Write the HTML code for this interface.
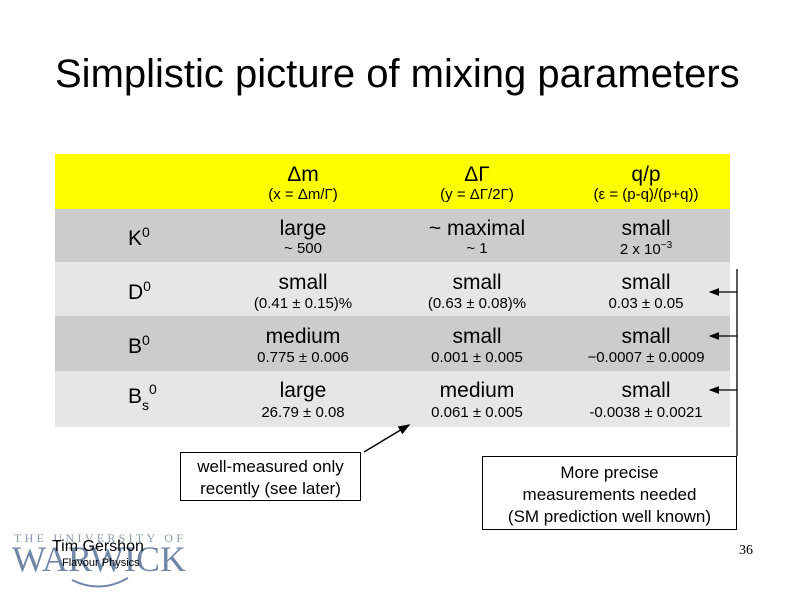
<!DOCTYPE html>
<html><head><meta charset="utf-8"><style>
body{margin:0;width:794px;height:595px;background:#fff;position:relative;overflow:hidden;font-family:"Liberation Sans",Arial,sans-serif;color:#000}
.a{position:absolute}
.c{position:absolute;text-align:center;width:170px;line-height:1}
.big{font-size:21px}
.sm{font-size:15px}
.row{position:absolute;left:55px;width:675px}
.lab{position:absolute;left:128px;font-size:21px}
.box{position:absolute;border:1px solid #000;background:#fff;text-align:center;font-size:17px;line-height:22px}
</style></head><body>
<div class="a" style="left:55px;top:52px;font-size:40px">Simplistic picture of mixing parameters</div>

<div class="row" style="top:154px;height:55px;background:#ffff00"></div>
<div class="row" style="top:209px;height:53px;background:#cccccc"></div>
<div class="row" style="top:262px;height:54px;background:#e6e6e6"></div>
<div class="row" style="top:316px;height:55px;background:#cccccc"></div>
<div class="row" style="top:371px;height:56px;background:#e6e6e6"></div>

<div class="c big" style="left:218px;top:164px">Δm</div>
<div class="c sm" style="left:218px;top:187px">(x = Δm/Γ)</div>
<div class="c big" style="left:392px;top:164px">ΔΓ</div>
<div class="c sm" style="left:392px;top:187px">(y = ΔΓ/2Γ)</div>
<div class="c big" style="left:561px;top:164px">q/p</div>
<div class="c sm" style="left:561px;top:187px">(ε = (p-q)/(p+q))</div>

<div class="lab" style="top:224px">K<sup style="font-size:14px">0</sup></div>
<div class="c big" style="left:218px;top:218px">large</div>
<div class="c sm" style="left:218px;top:241px">~ 500</div>
<div class="c big" style="left:392px;top:218px">~ maximal</div>
<div class="c sm" style="left:392px;top:241px">~ 1</div>
<div class="c big" style="left:561px;top:218px">small</div>
<div class="c sm" style="left:561px;top:241px">2 x 10<sup style="font-size:10px">−3</sup></div>

<div class="lab" style="top:278px">D<sup style="font-size:14px">0</sup></div>
<div class="c big" style="left:218px;top:272px">small</div>
<div class="c sm" style="left:218px;top:296px">(0.41 ± 0.15)%</div>
<div class="c big" style="left:392px;top:272px">small</div>
<div class="c sm" style="left:392px;top:296px">(0.63 ± 0.08)%</div>
<div class="c big" style="left:561px;top:272px">small</div>
<div class="c sm" style="left:561px;top:296px">0.03 ± 0.05</div>

<div class="lab" style="top:332px">B<sup style="font-size:14px">0</sup></div>
<div class="c big" style="left:218px;top:326px">medium</div>
<div class="c sm" style="left:218px;top:350px">0.775 ± 0.006</div>
<div class="c big" style="left:392px;top:326px">small</div>
<div class="c sm" style="left:392px;top:350px">0.001 ± 0.005</div>
<div class="c big" style="left:561px;top:326px">small</div>
<div class="c sm" style="left:561px;top:350px">−0.0007 ± 0.0009</div>

<div class="lab" style="top:385px">B<span style="font-size:14px;position:relative;top:7px">s</span><span style="font-size:14px;position:relative;top:-9px">0</span></div>
<div class="c big" style="left:218px;top:380px">large</div>
<div class="c sm" style="left:218px;top:405px">26.79 ± 0.08</div>
<div class="c big" style="left:392px;top:380px">medium</div>
<div class="c sm" style="left:392px;top:405px">0.061 ± 0.005</div>
<div class="c big" style="left:561px;top:380px">small</div>
<div class="c sm" style="left:561px;top:405px">-0.0038 ± 0.0021</div>

<svg class="a" style="left:0;top:0" width="794" height="595">
<defs><marker id="ah" markerWidth="8" markerHeight="8" refX="7" refY="4" orient="auto"><path d="M0,1 L8,4 L0,7z" fill="#000"/></marker></defs>
<line x1="737" y1="269" x2="737" y2="456" stroke="#000" stroke-width="1.3"/>
<line x1="737" y1="292" x2="710" y2="292" stroke="#000" stroke-width="1.3" marker-end="url(#ah)"/>
<line x1="737" y1="336" x2="710" y2="336" stroke="#000" stroke-width="1.3" marker-end="url(#ah)"/>
<line x1="737" y1="390" x2="710" y2="390" stroke="#000" stroke-width="1.3" marker-end="url(#ah)"/>
<line x1="364" y1="452" x2="409" y2="425" stroke="#000" stroke-width="1.5" marker-end="url(#ah)"/>
<path d="M72,580 Q100,594 128,578" fill="none" stroke="#6f86a6" stroke-width="2"/>
</svg>

<div class="box" style="left:180px;top:452px;width:181px;height:49px;padding-top:3px;box-sizing:border-box">well-measured only<br>recently (see later)</div>
<div class="box" style="left:482px;top:456px;width:255px;height:74px;padding-top:5px;box-sizing:border-box">More precise<br>measurements needed<br>(SM prediction well known)</div>

<div class="a" style="left:14px;top:531px;font-family:'Liberation Serif',serif;font-size:12px;letter-spacing:3.3px;color:#8a9ab0">THE UNIVERSITY OF</div>
<div class="a" style="left:12px;top:538px;font-family:'Liberation Serif',serif;font-size:36px;letter-spacing:0px;color:#6f86a6">WARWICK</div>
<div class="a" style="left:52px;top:538px;font-size:16px">Tim Gershon</div>
<div class="a" style="left:62px;top:557px;font-size:11px">Flavour Physics</div>
<div class="a" style="left:739px;top:543px;font-family:'Liberation Serif',serif;font-size:14px">36</div>
</body></html>
